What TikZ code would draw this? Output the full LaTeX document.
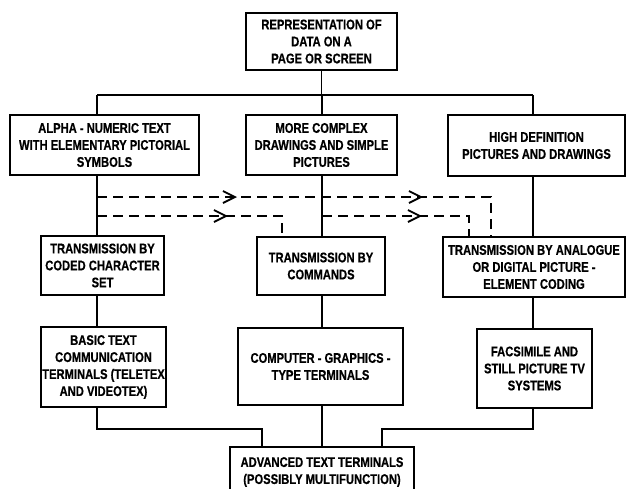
\documentclass[tikz,border=0pt]{standalone}
\usepackage{fontspec}
\newfontfamily\diagfont{Liberation Sans}[FakeStretch=0.8,FakeBold=0.6]
\usetikzlibrary{arrows.meta,decorations.markings}
\newcommand\chevtip{\arrow[line width=1.8pt]{Straight Barb[length=12pt,width=12pt]}}
\begin{document}
\begin{tikzpicture}[x=1pt,y=-1pt,
  box/.style={draw, line width=1.8pt, inner sep=0pt, align=center,
    font=\diagfont\bfseries\fontsize{14}{17}\selectfont},
  link/.style={line width=1.8pt},
  dline/.style={line width=1.7pt, dash pattern=on 10pt off 6pt},
]
\useasboundingbox (0,0) rectangle (627,488);
\fill[white] (0,0) rectangle (627,488);

% boxes
\node[box, minimum width=151pt, minimum height=57pt] (top) at (321.5,41.5)
  {REPRESENTATION OF\\DATA ON A\\PAGE OR SCREEN};
\node[box, minimum width=189pt, minimum height=60pt] (a1) at (104.5,145)
  {ALPHA - NUMERIC TEXT\\WITH ELEMENTARY PICTORIAL\\SYMBOLS};
\node[box, minimum width=151pt, minimum height=60pt] (a2) at (321.5,145)
  {MORE COMPLEX\\DRAWINGS AND SIMPLE\\PICTURES};
\node[box, minimum width=177pt, minimum height=61pt] (a3) at (536.5,145.5)
  {HIGH DEFINITION\\PICTURES AND DRAWINGS};
\node[box, minimum width=123pt, minimum height=59pt] (b1) at (102.5,265.5)
  {TRANSMISSION BY\\CODED CHARACTER\\SET};
\node[box, minimum width=128pt, minimum height=58pt] (b2) at (321,266)
  {TRANSMISSION BY\\COMMANDS};
\node[box, minimum width=182pt, minimum height=60pt] (b3) at (534,267)
  {TRANSMISSION BY ANALOGUE\\OR DIGITAL PICTURE -\\ELEMENT CODING};
\node[box, minimum width=125pt, minimum height=80pt] (c1) at (103.5,367)
  {BASIC TEXT\\COMMUNICATION\\TERMINALS (TELETEX\\AND VIDEOTEX)};
\node[box, minimum width=165pt, minimum height=77pt] (c2) at (320.5,366.5)
  {COMPUTER - GRAPHICS -\\TYPE TERMINALS};
\node[box, minimum width=115pt, minimum height=79pt] (c3) at (534.5,368.5)
  {FACSIMILE AND\\STILL PICTURE TV\\SYSTEMS};
\node[box, minimum width=184pt, minimum height=50pt] (d) at (322,472)
  {ADVANCED TEXT TERMINALS\\(POSSIBLY MULTIFUNCTION)};

% reference coordinates
\coordinate (xL) at (97,0);
\coordinate (xM) at (322,0);
\coordinate (xR) at (533,0);
\coordinate (busT) at (0,95);
\coordinate (busB) at (0,429);
\coordinate (dL) at (262,0);
\coordinate (dR) at (382,0);

% top tree
\draw[link] (top.south) -- (top.south |- busT);
\draw[link] (xL |- busT) -- (xR |- busT);
\draw[link] (xL |- busT) -- (xL |- a1.north);
\draw[link] (xM |- busT) -- (xM |- a2.north);
\draw[link] (xR |- busT) -- (xR |- a3.north);

% columns
\draw[link] (a1.south -| xL) -- (b1.north -| xL);
\draw[link] (a2.south -| xM) -- (b2.north -| xM);
\draw[link] (a3.south -| xR) -- (b3.north -| xR);
\draw[link] (b1.south -| xL) -- (c1.north -| xL);
\draw[link] (b2.south -| xM) -- (c2.north -| xM);
\draw[link] (b3.south -| xR) -- (c3.north -| xR);

% bottom tree
\draw[link] (c1.south -| xL) -- (xL |- busB) -- (dL |- busB) -- (dL |- d.north);
\draw[link] (c2.south -| xM) -- (xM |- d.north);
\draw[link] (c3.south -| xR) -- (xR |- busB) -- (dR |- busB) -- (dR |- d.north);

% dashed cross links
\coordinate (u0) at (97,197);
\coordinate (u1) at (491,197);
\coordinate (l0) at (97,216);
\coordinate (l1) at (282,216);
\coordinate (r0) at (322,216);
\coordinate (r1) at (469,216);
\draw[dline, postaction={decorate}, decoration={markings,
    mark=at position 140pt with {\chevtip},
    mark=at position 326pt with {\chevtip}}]
  (u0) -- (u1) -- (u1 |- b3.north);
\draw[dline, postaction={decorate}, decoration={markings,
    mark=at position 131pt with {\chevtip}}]
  (l0) -- (l1) -- (l1 |- b2.north);
\draw[dline, postaction={decorate}, decoration={markings,
    mark=at position 100pt with {\chevtip}}]
  (r0) -- (r1) -- (r1 |- b3.north);
\end{tikzpicture}
\end{document}
